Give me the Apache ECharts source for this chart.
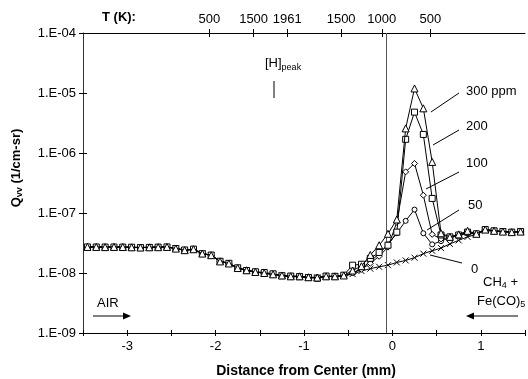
<!DOCTYPE html>
<html><head><meta charset="utf-8">
<script src="https://cdn.jsdelivr.net/npm/echarts@6/dist/echarts.min.js"></script>
<style>html,body{margin:0;padding:0;background:#fff}#c{width:528px;height:379px}</style>
</head><body><div id="c"></div>
<script>
const distances = [-3.45,-3.35,-3.25,-3.15,-3.05,-2.95,-2.85,-2.75,-2.65,-2.55,-2.45,-2.35,-2.25,-2.15,-2.05,-1.95,-1.85,-1.75,-1.65,-1.55,-1.45,-1.35,-1.25,-1.15,-1.05,-0.95,-0.85,-0.75,-0.65,-0.55,-0.45,-0.35,-0.25,-0.15,-0.05,0.05,0.15,0.25,0.35,0.45,0.55,0.65,0.75,0.85,0.95,1.05,1.15,1.25,1.35,1.45];
const ppm0 = [2.72e-8,2.72e-8,2.70e-8,2.71e-8,2.70e-8,2.68e-8,2.66e-8,2.68e-8,2.70e-8,2.72e-8,2.56e-8,2.40e-8,2.49e-8,2.11e-8,1.98e-8,1.57e-8,1.44e-8,1.22e-8,1.11e-8,1.04e-8,1.00e-8,9.5e-9,9.1e-9,8.8e-9,8.9e-9,8.5e-9,8.4e-9,8.7e-9,8.8e-9,8.9e-9,
  9.6e-9,1.08e-8,1.18e-8,1.27e-8,1.35e-8,1.5e-8,1.62e-8,1.8e-8,2.1e-8,2.35e-8,2.6e-8,3.05e-8,3.5e-8,4.0e-8,4.4e-8,5.1e-8,4.95e-8,4.9e-8,4.8e-8,4.9e-8];
const ppm50 = [2.72e-8,2.71e-8,2.70e-8,2.72e-8,2.69e-8,2.68e-8,2.65e-8,2.68e-8,2.71e-8,2.72e-8,2.55e-8,2.38e-8,2.48e-8,2.10e-8,1.97e-8,1.58e-8,1.45e-8,1.20e-8,1.10e-8,1.03e-8,1.00e-8,9.4e-9,9.0e-9,8.6e-9,8.7e-9,8.3e-9,8.5e-9,8.8e-9,8.7e-9,9.0e-9,
  1.0e-8,1.2e-8,1.55e-8,2.1e-8,3.0e-8,4.6e-8,7.4e-8,1.14e-7,4.6e-8,3.0e-8,3.4e-8,3.9e-8,4.2e-8,4.6e-8,4.5e-8,5.3e-8,5.0e-8,4.9e-8,4.8e-8,4.9e-8];
const ppm100 = [2.71e-8,2.72e-8,2.71e-8,2.70e-8,2.70e-8,2.67e-8,2.66e-8,2.69e-8,2.70e-8,2.71e-8,2.57e-8,2.41e-8,2.47e-8,2.12e-8,1.96e-8,1.56e-8,1.43e-8,1.21e-8,1.12e-8,1.05e-8,9.8e-9,9.6e-9,9.2e-9,8.7e-9,8.8e-9,8.4e-9,8.3e-9,8.6e-9,8.9e-9,9.0e-9,
  1.0e-8,1.15e-8,1.45e-8,1.9e-8,2.7e-8,7.0e-8,4.85e-7,6.7e-7,1.98e-7,4.4e-8,3.7e-8,3.9e-8,4.3e-8,4.7e-8,4.5e-8,5.3e-8,5.05e-8,4.9e-8,4.8e-8,4.9e-8];
const ppm200 = [2.72e-8,2.71e-8,2.71e-8,2.71e-8,2.70e-8,2.69e-8,2.65e-8,2.67e-8,2.70e-8,2.72e-8,2.56e-8,2.42e-8,2.50e-8,2.10e-8,1.99e-8,1.57e-8,1.45e-8,1.22e-8,1.10e-8,1.05e-8,1.02e-8,9.7e-9,9.0e-9,8.9e-9,8.7e-9,8.4e-9,8.2e-9,8.9e-9,8.8e-9,9.2e-9,
  1.35e-8,1.4e-8,1.75e-8,2.2e-8,2.9e-8,4.8e-8,1.69e-6,4.8e-6,2.04e-6,1.75e-7,4.3e-8,4.0e-8,4.3e-8,4.8e-8,4.5e-8,5.3e-8,5.05e-8,4.9e-8,4.8e-8,4.9e-8];
const ppm300 = [2.72e-8,2.72e-8,2.70e-8,2.72e-8,2.71e-8,2.68e-8,2.66e-8,2.68e-8,2.69e-8,2.72e-8,2.55e-8,2.40e-8,2.49e-8,2.11e-8,1.98e-8,1.56e-8,1.44e-8,1.21e-8,1.11e-8,1.04e-8,1.00e-8,9.5e-9,9.1e-9,8.8e-9,8.8e-9,8.5e-9,8.4e-9,8.8e-9,8.8e-9,9.1e-9,
  1.1e-8,1.3e-8,2.0e-8,2.9e-8,4.5e-8,7.8e-8,2.57e-6,1.19e-5,5.55e-6,7.1e-7,4.6e-8,4.0e-8,4.4e-8,5.05e-8,4.5e-8,5.3e-8,5.05e-8,4.9e-8,4.8e-8,4.9e-8];
const seriesNames = ['0','50','100','200','300 ppm'];
const yTickLabels = ['1.E-09','1.E-08','1.E-07','1.E-06','1.E-05','1.E-04'];
const topTickPositions = [-2.07,-1.57,-1.19,-0.58,-0.12,0.43];
const topTickLabels = ['500','1500','1961','1500','1000','500'];
const centerLineX = -0.07;

const FONT = 'Liberation Sans, Arial, sans-serif';
const chart = echarts.init(document.getElementById('c'), null, {renderer:'canvas'});
const symbols = ['path://M0,0L10,10M10,0L0,10','circle','diamond','rect','triangle'];
const sizes = [6,5,6,6,7];
const all = [ppm0, ppm50, ppm100, ppm200, ppm300];
const series = all.map((arr, si) => ({
  name: seriesNames[si], type:'line', xAxisIndex:0, yAxisIndex:0,
  data: distances.map((x,i)=>[x, arr[i]]),
  symbol: symbols[si], symbolSize: sizes[si], showSymbol:true,
  lineStyle:{color:'#000', width:1},
  itemStyle:{color:'#fff', borderColor:'#000', borderWidth:1},
  z: 3 + si, animation:false
}));
series[0].markLine = {silent:true, symbol:'none', label:{show:false},
  lineStyle:{color:'#555', width:1, type:'solid'}, data:[{xAxis:centerLineX}]};

const xCommon = {type:'value', min:-3.5, max:1.5, interval:0.5, gridIndex:0, splitLine:{show:false}};
function findTop(v){ return topTickPositions.findIndex(p=>Math.abs(p-v)<1e-6); }
const option = {
  animation:false,
  grid:{left:83, right:0, top:33, bottom:46},
  xAxis:[
    Object.assign({}, xCommon, {position:'bottom',
      axisLine:{show:true, onZero:false, lineStyle:{color:'#000', width:1}},
      axisTick:{show:true, inside:false, length:3, lineStyle:{color:'#000'}},
      axisLabel:{show:true, margin:7, color:'#000', fontSize:13, fontFamily:FONT,
        formatter:v=>{ if (Math.abs(v-Math.round(v))>1e-6) return ''; const r=Math.round(v); return r===0?'0':String(r);} }}),
    Object.assign({}, xCommon, {position:'bottom',
      axisLine:{show:false, onZero:false}, axisTick:{show:true, inside:true, length:3, lineStyle:{color:'#000'}}, axisLabel:{show:false}}),
    Object.assign({}, xCommon, {position:'top',
      axisLine:{show:true, onZero:false, lineStyle:{color:'#000', width:1}},
      axisTick:{show:true, inside:false, length:4, customValues:topTickPositions, lineStyle:{color:'#000'}},
      axisLabel:{show:true, margin:7, color:'#000', fontSize:13, fontFamily:FONT, customValues:topTickPositions,
        formatter:v=>{const i=findTop(v); return i>=0?topTickLabels[i]:'';}}}),
    Object.assign({}, xCommon, {position:'top',
      axisLine:{show:false, onZero:false},
      axisTick:{show:true, inside:true, length:4, customValues:topTickPositions, lineStyle:{color:'#000'}},
      axisLabel:{show:false}})
  ],
  yAxis:[
    {type:'log', logBase:10, min:1e-9, max:1e-4, position:'left', gridIndex:0,
      axisLine:{show:true, onZero:false, lineStyle:{color:'#333', width:1}},
      axisTick:{show:true, inside:false, length:4, lineStyle:{color:'#000'}},
      splitLine:{show:false},
      axisLabel:{show:true, margin:7, color:'#000', fontSize:13, fontFamily:FONT,
        formatter:v=>{const i=Math.round(Math.log10(v))+9; return yTickLabels[i]||'';}}},
    {type:'log', logBase:10, min:1e-9, max:1e-4, position:'left', gridIndex:0,
      axisLine:{show:false, onZero:false}, axisTick:{show:true, inside:true, length:4, lineStyle:{color:'#000'}},
      splitLine:{show:false}, axisLabel:{show:false}}
  ],
  series: series,
  graphic:[
    {type:'text', left:102, top:11, style:{text:'T (K):', font:'bold 13px '+FONT, fill:'#000'}},
    {type:'text', left:265, top:57, style:{rich:{a:{font:'13px '+FONT, fill:'#000'}, s:{font:'9px '+FONT, fill:'#000', padding:[8,0,0,0]}}, text:'{a|[H]}{s|peak}'}},
    {type:'line', shape:{x1:274, y1:81, x2:274, y2:98}, style:{stroke:'#000', lineWidth:1}},
    {type:'text', x:16, y:168, rotation:Math.PI/2, style:{text:'{a|Q}{s|vv}{a| (1/cm-sr)}', align:'center', verticalAlign:'middle',
      rich:{a:{font:'bold 13px '+FONT, fill:'#000'}, s:{font:'bold 9px '+FONT, fill:'#000', padding:[7,0,0,0]}}}},
    {type:'text', x:306, y:371, style:{text:'Distance from Center (mm)', font:'bold 14px '+FONT, fill:'#000', align:'center', verticalAlign:'middle'}},
    {type:'text', left:466, top:85, style:{text:'300 ppm', font:'13px '+FONT, fill:'#000'}},
    {type:'text', left:466, top:120, style:{text:'200', font:'13px '+FONT, fill:'#000'}},
    {type:'text', left:466, top:157, style:{text:'100', font:'13px '+FONT, fill:'#000'}},
    {type:'text', left:468, top:199, style:{text:'50', font:'13px '+FONT, fill:'#000'}},
    {type:'text', left:471, top:263, style:{text:'0', font:'13px '+FONT, fill:'#000'}},
    {type:'line', shape:{x1:459, y1:93, x2:431, y2:112}, style:{stroke:'#000', lineWidth:1}},
    {type:'line', shape:{x1:459, y1:130, x2:433, y2:145}, style:{stroke:'#000', lineWidth:1}},
    {type:'line', shape:{x1:459, y1:172, x2:426, y2:189}, style:{stroke:'#000', lineWidth:1}},
    {type:'line', shape:{x1:459, y1:210, x2:427, y2:230}, style:{stroke:'#000', lineWidth:1}},
    {type:'line', shape:{x1:462, y1:263, x2:430, y2:255}, style:{stroke:'#000', lineWidth:1}},
    {type:'text', left:97, top:297, style:{text:'AIR', font:'13px '+FONT, fill:'#000'}},
    {type:'line', shape:{x1:93, y1:316, x2:125, y2:316}, style:{stroke:'#000', lineWidth:1}},
    {type:'polygon', shape:{points:[[123,312.5],[131,316],[123,319.5]]}, style:{fill:'#000'}},
    {type:'text', left:483, top:276, style:{rich:{a:{font:'13px '+FONT, fill:'#000'}, s:{font:'9px '+FONT, fill:'#000', padding:[7,0,0,0]}}, text:'{a|CH}{s|4}{a| +}'}},
    {type:'text', left:477, top:295, style:{rich:{a:{font:'13px '+FONT, fill:'#000'}, s:{font:'9px '+FONT, fill:'#000', padding:[7,0,0,0]}}, text:'{a|Fe(CO)}{s|5}'}},
    {type:'line', shape:{x1:518, y1:316, x2:472, y2:316}, style:{stroke:'#000', lineWidth:1}},
    {type:'polygon', shape:{points:[[474,312.5],[466,316],[474,319.5]]}, style:{fill:'#000'}}
  ]
};
chart.setOption(option);
</script>
</body></html>
